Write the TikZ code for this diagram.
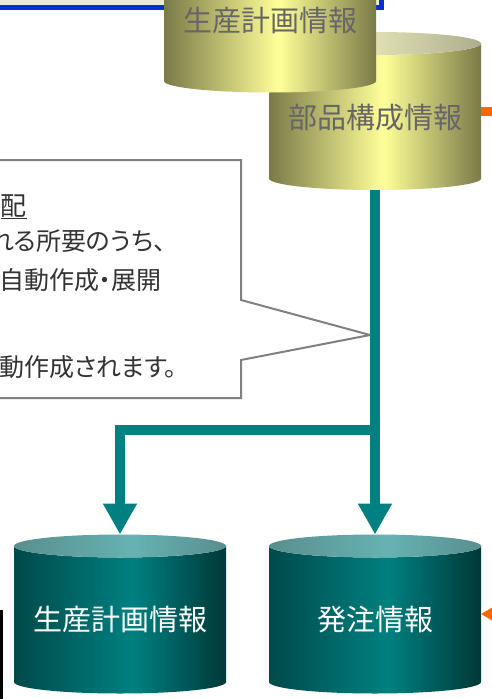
\documentclass[tikz,border=0pt]{standalone}
\usepackage{fontspec}
\setmainfont{Noto Sans CJK JP}
\newfontfamily\notefont{Noto Sans CJK JP}[RawFeature=+palt]
\usetikzlibrary{arrows.meta}

\definecolor{oliveD}{HTML}{7A7A48}
\definecolor{paleY}{HTML}{FFFF99}
\definecolor{lidL}{HTML}{FFFFCC}
\definecolor{lidR}{HTML}{ADAD8E}
\definecolor{tealDL}{HTML}{004A4A}
\definecolor{tealDR}{HTML}{003838}
\definecolor{tealM}{HTML}{008080}
\definecolor{tealL}{HTML}{66B2B2}
\definecolor{tealG}{HTML}{5A8E8E}
\definecolor{winblue}{HTML}{0830D0}
\definecolor{winbeige}{HTML}{ECE9D8}
\definecolor{arrorange}{HTML}{FF6600}
\definecolor{notegray}{HTML}{808080}
\definecolor{notetext}{HTML}{333333}

\pgfdeclarehorizontalshading{olivebody}{100bp}{color(0bp)=(oliveD); color(25bp)=(oliveD); color(52bp)=(paleY); color(75bp)=(oliveD); color(100bp)=(oliveD)}
\pgfdeclarehorizontalshading{olivelid}{100bp}{color(0bp)=(lidL); color(25bp)=(lidL); color(35bp)=(lidL); color(75bp)=(lidR); color(100bp)=(lidR)}
\pgfdeclarehorizontalshading{tealbody}{100bp}{color(0bp)=(tealDL); color(25bp)=(tealDL); color(53bp)=(tealM); color(75bp)=(tealDR); color(100bp)=(tealDR)}
\pgfdeclarehorizontalshading{teallid}{100bp}{color(0bp)=(tealG); color(25bp)=(tealG); color(53bp)=(tealL); color(75bp)=(tealG); color(100bp)=(tealG)}

% cylinder: name, centre x, lid y, bottom y, body shading, lid shading
\newcommand{\dbcyl}[6]{%
	\shade[shading=#5] (#2-106,#3) -- (#2-106,#4) arc[start angle=180,end angle=0,x radius=106,y radius=11.5] -- (#2+106,#3) arc[start angle=0,end angle=180,x radius=106,y radius=11.5] -- cycle;
	\shade[shading=#6] (#2,#3) ellipse[x radius=106,y radius=11.5];
	\coordinate (#1-top) at (#2,#3-11.5);
	\coordinate (#1-bot) at (#2,#4+11.5);
}

\tikzset{
	flow/.style={draw=tealM, line width=10.5pt, -{Triangle[width=32pt,length=31pt]}},
	cyltxt/.style={font=\fontsize{29}{34}\selectfont, inner sep=0pt},
	note/.style={font=\notefont\fontsize{25}{29}\selectfont, text=notetext, inner sep=0pt},
	orangeline/.style={draw=arrorange, line width=9pt}
}

\begin{document}
\begin{tikzpicture}[x=1pt,y=-1pt]
	\useasboundingbox (0,0) rectangle (491,699);

	\draw[line width=5pt, draw=winblue, fill=winbeige] (-30,-30) rectangle (381.5,7.5); % window

	\dbcyl{bom}{375}{43.5}{178.5}{olivebody}{olivelid}
	\dbcyl{plantop}{270}{-40}{81}{olivebody}{olivelid}
	\node[cyltxt, text=black!60] (plantoptxt) at (270,21) {生産計画情報};
	\node[cyltxt, text=black!60] (bomtxt) at (375,118) {部品構成情報};

	\coordinate (bomR) at (481,111.5);
	\coordinate (offR) at (500,111.5);
	\draw[orangeline] (bomR) -- (offR);

	% callout
	\coordinate (tip) at (370,335);
	\draw[draw=notegray, line width=2pt, fill=white] (-10,160) -- (241,160) -- (241,300) -- (tip) -- (241,360) -- (241,398) -- (-10,398) -- cycle;
	\node[note, font=\notefont\fontsize{26}{30}\selectfont, anchor=base east] (ttl) at (27,215) {\underline{配}};
	\node[note, anchor=base east] (ln1) at (166,250) {れる所要のうち、};
	\node[note, anchor=base west] (ln2) at (-1,289) {自動作成・展開};
	\node[note, anchor=base west] (ln3) at (-1,376) {動作成されます。};

	\dbcyl{plan}{120}{546}{682}{tealbody}{teallid}
	\dbcyl{ord}{375}{546}{682}{tealbody}{teallid}
	\node[cyltxt, text=white] (plantxt) at (120,620) {生産計画情報};
	\node[cyltxt, text=white] (ordtxt) at (375,620) {発注情報};

	\coordinate (split) at (375,430);
	\draw[flow] (bom-bot) -- (ord-top);
	\draw[flow] (split) -| (plan-top);

	\coordinate (ordR) at (481,614);
	\coordinate (offR2) at (530,614);
	\draw[orangeline, line width=4pt, -{Triangle[width=20pt,length=18pt]}] (offR2) -- (ordR);

	\draw[line width=3pt] (-60,611.5) -- (1.5,611.5) -- (1.5,760); % box edge
\end{tikzpicture}
\end{document}
